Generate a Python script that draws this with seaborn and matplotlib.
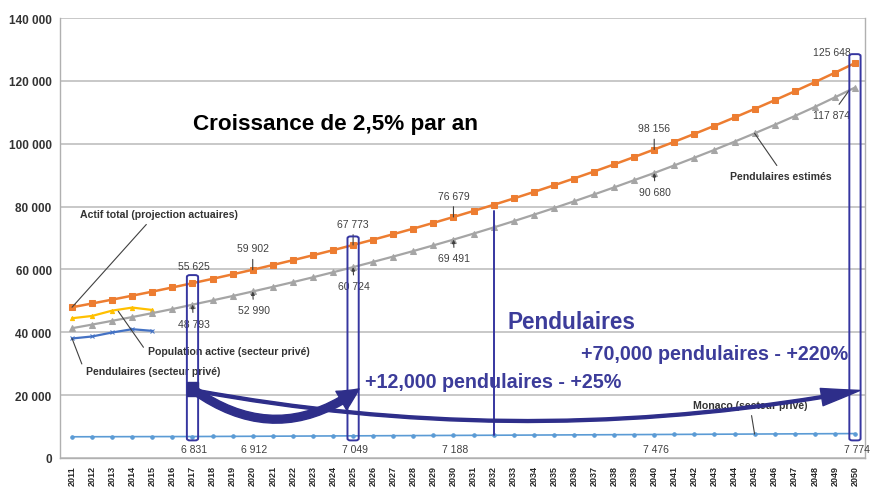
import seaborn as sns
sns.set_theme(style="white", rc={"axes.facecolor": "white", "figure.facecolor": "white"})
import matplotlib.pyplot as plt
from matplotlib.patches import FancyArrowPatch, FancyBboxPatch, Rectangle
from matplotlib.ticker import FuncFormatter
import numpy as np
import pandas as pd

plt.rcParams["font.family"] = ["Liberation Sans", "DejaVu Sans"]

years = list(range(2011, 2051))

actif_total = [47965, 49164, 50393, 51653, 52944, 54268, 55625, 57016, 58441, 59902,
               61400, 62935, 64508, 66121, 67773, 69468, 71205, 72985, 74810, 76679,
               78596, 80561, 82575, 84639, 86755, 88924, 91147, 93426, 95762, 98156,
               100610, 103125, 105703, 108346, 111054, 113831, 116677, 119594, 122583, 125648]

pendulaires_estimes = [41300, 42450, 43650, 44850, 46100, 47400, 48793, 50150, 51550, 52990,
                       54450, 55950, 57500, 59100, 60724, 62400, 64100, 65850, 67650, 69491,
                       71400, 73350, 75350, 77400, 79500, 81650, 83850, 86100, 88400, 90680,
                       93100, 95550, 98050, 100650, 103300, 106000, 108800, 111700, 114750, 117874]

monaco = [6750, 6765, 6780, 6795, 6810, 6820, 6831, 6858, 6885, 6912,
          6939, 6966, 6994, 7021, 7049, 7077, 7104, 7132, 7160, 7188,
          7216, 7245, 7273, 7302, 7330, 7359, 7388, 7417, 7446, 7476,
          7505, 7534, 7564, 7594, 7624, 7654, 7684, 7714, 7744, 7774]

years_prive = [2011, 2012, 2013, 2014, 2015]
pop_active_prive = [44470, 45200, 46900, 47860, 47100]
pendulaires_prive = [38030, 38670, 39940, 40980, 40450]

# labelled points
actif_labels = {2017: "55 625", 2020: "59 902", 2025: "67 773", 2030: "76 679", 2040: "98 156", 2050: "125 648"}
estimes_labels = {2017: "48 793", 2020: "52 990", 2025: "60 724", 2030: "69 491", 2040: "90 680", 2050: "117 874"}
monaco_labels = {2017: "6 831", 2020: "6 912", 2025: "7 049", 2030: "7 188", 2040: "7 476", 2050: "7 774"}

box_years = [2017, 2025, 2050]

NAVY = "#2e2e8a"
BLUE_TXT = "#3c3c9a"
LEADER = "#404040"

fig = plt.figure(figsize=(8.77, 4.89), dpi=100)
ax = fig.add_axes([60 / 877, 30 / 489, 805 / 877, 440 / 489])

sns.lineplot(x=years, y=monaco, color="#5B9BD5", lw=1.2, marker="o", markersize=2.5,
             markeredgecolor="#5B9BD5", ax=ax)
sns.lineplot(x=years_prive, y=pendulaires_prive, color="#4472C4", lw=1.6, marker="x", markersize=3.5,
             markeredgecolor="#4472C4", ax=ax)
sns.lineplot(x=years_prive, y=pop_active_prive, color="#FFC000", lw=1.6, marker="^", markersize=3,
             markeredgecolor="#FFC000", ax=ax)
sns.lineplot(x=years, y=pendulaires_estimes, color="#A5A5A5", lw=1.6, marker="^", markersize=4,
             markeredgecolor="#A5A5A5", ax=ax)
sns.lineplot(x=years, y=actif_total, color="#ED7D31", lw=1.8, marker="s", markersize=5,
             markeredgecolor="#ED7D31", ax=ax)

ax.set_xlim(2010.4, 2050.4)
ax.set_ylim(0, 140000)
ax.set_yticks(np.arange(0, 140001, 20000))
ax.yaxis.set_major_formatter(FuncFormatter(lambda v, p: f"{int(v):,}".replace(",", " ")))
ax.set_xticks(years)
ax.set_xticklabels([str(y) for y in years], rotation=90, fontsize=6.5, fontweight="bold")
ax.set_xticks(np.arange(2010.5, 2051, 1), minor=True)
ax.tick_params(axis="x", which="major", length=0, pad=5)
ax.tick_params(axis="x", which="minor", length=4, color="#999999", width=0.8)
ax.tick_params(axis="y", length=4, color="#999999", width=0.8, labelsize=8.5, labelcolor="#333333", pad=2)
for t in ax.get_yticklabels():
    t.set_fontweight("bold")
ax.set_xlabel("")
ax.set_ylabel("")
ax.grid(axis="y", color="#c4c4c4", lw=1.3)
ax.set_axisbelow(True)
for s in ["left", "bottom", "right"]:
    ax.spines[s].set_color("#b0b0b0")
    ax.spines[s].set_linewidth(1.0)
ax.spines["top"].set_visible(False)

# value labels
for yr, txt in actif_labels.items():
    v = actif_total[years.index(yr)]
    if yr == 2050:
        ax.text(yr - 1.17, v + 3400, txt, ha="center", va="center", fontsize=7.5, color="#404040")
    elif yr == 2017:
        ax.text(yr + 0.07, v + 5400, txt, ha="center", va="center", fontsize=7.5, color="#404040")
    else:
        ax.annotate(txt, xy=(yr, v), xytext=(yr, v + 6800), ha="center", va="center",
                    fontsize=7.5, color="#404040",
                    arrowprops=dict(arrowstyle="-", color=LEADER, lw=0.8, shrinkA=2, shrinkB=0))
for yr, txt in estimes_labels.items():
    v = pendulaires_estimes[years.index(yr)]
    if yr == 2050:
        ax.annotate(txt, xy=(yr - 0.3, v - 1000), xytext=(yr - 1.17, v - 8700), ha="center", va="center",
                    fontsize=7.5, color="#404040",
                    arrowprops=dict(arrowstyle="-", color=LEADER, lw=0.8, shrinkA=2, shrinkB=0))
    else:
        ax.annotate(txt, xy=(yr, v), xytext=(yr + 0.05, v - 6000), ha="center", va="center",
                    fontsize=7.5, color="#404040",
                    arrowprops=dict(arrowstyle="-|>", mutation_scale=5, color=LEADER, lw=0.8, shrinkA=2, shrinkB=0))
for yr, txt in monaco_labels.items():
    ax.text(yr + 0.08, 2900, txt, ha="center", va="center", fontsize=7.5, color="#404040")

# series names with leader lines
name_kw = dict(fontsize=7.6, fontweight="bold", color="#333333")
ax.annotate("Actif total (projection actuaires)", xy=(2011, actif_total[0]), xytext=(2011.4, 77600),
            ha="left", va="center", **name_kw,
            arrowprops=dict(arrowstyle="-", color=LEADER, lw=0.8, shrinkA=2, shrinkB=0,
                            relpos=(0.45, 0)))
ax.annotate("Population active (secteur privé)", xy=(2013.3, 46700), xytext=(2014.8, 34050),
            ha="left", va="center", **name_kw,
            arrowprops=dict(arrowstyle="-", color=LEADER, lw=0.8, shrinkA=2, shrinkB=0,
                            relpos=(0, 0.5), connectionstyle="angle,angleA=0,angleB=125,rad=0"))
ax.annotate("Pendulaires (secteur privé)", xy=(2011, pendulaires_prive[0]), xytext=(2011.7, 27700),
            ha="left", va="center", **name_kw,
            arrowprops=dict(arrowstyle="-", color=LEADER, lw=0.8, shrinkA=2, shrinkB=0,
                            relpos=(0, 0.5), connectionstyle="angle,angleA=0,angleB=111,rad=0"))
ax.annotate("Pendulaires estimés", xy=(2045, pendulaires_estimes[34]), xytext=(2046.3, 89700),
            ha="center", va="center", **name_kw,
            arrowprops=dict(arrowstyle="-", color=LEADER, lw=0.8, shrinkA=2, shrinkB=0,
                            relpos=(0.5, 1)))
ax.annotate("Monaco (secteur privé)", xy=(2045, monaco[34]), xytext=(2044.8, 17000),
            ha="center", va="center", **name_kw,
            arrowprops=dict(arrowstyle="-", color=LEADER, lw=0.8, shrinkA=2, shrinkB=0,
                            relpos=(0.5, 0)))

# big texts
ax.text(2024.1, 106300, "Croissance de 2,5% par an", ha="center", va="center",
        fontsize=16.2, fontweight="bold", color="black")
ax.text(2035.9, 43300, "Pendulaires", ha="center", va="center",
        fontsize=16.3, fontweight="bold", color=BLUE_TXT)
ax.text(2043.0, 33100, "+70,000 pendulaires - +220%", ha="center", va="center",
        fontsize=14.2, fontweight="bold", color=BLUE_TXT)
ax.text(2032.0, 24200, "+12,000 pendulaires - +25%", ha="center", va="center",
        fontsize=14.2, fontweight="bold", color=BLUE_TXT)

# boxes around the highlighted years
box_tops = [58200, 70500, 128500]
for yr, top in zip(box_years, box_tops):
    ax.add_patch(FancyBboxPatch((yr - 0.28, 5600), 0.56, top - 5600,
                                boxstyle="round,pad=0,rounding_size=0.15",
                                fill=False, ec="#3636a0", lw=1.4, mutation_aspect=4000, zorder=5))

# vertical marker at 2032
ax.plot([2032, 2032], [78700, monaco[21]], color="#3636a0", lw=1.4, zorder=5)

# curved arrows
ax.add_patch(Rectangle((2016.75, 19800), 0.5, 4400, color=NAVY, zorder=6))
ax.add_patch(FancyArrowPatch((2017.1, 21500), (2025.3, 22000),
                             connectionstyle="arc3,rad=0.36",
                             arrowstyle="simple,head_width=1.1,head_length=1.1,tail_width=0.4",
                             mutation_scale=14, color=NAVY, shrinkA=0, shrinkB=0, zorder=6))
ax.add_patch(FancyArrowPatch((2017.1, 21500), (2050.25, 21500),
                             connectionstyle="arc3,rad=0.092",
                             arrowstyle="simple,head_width=0.9,head_length=2.0,tail_width=0.15",
                             mutation_scale=14, color=NAVY, shrinkA=0, shrinkB=0, zorder=6))

fig.savefig("out.png", dpi=100)
